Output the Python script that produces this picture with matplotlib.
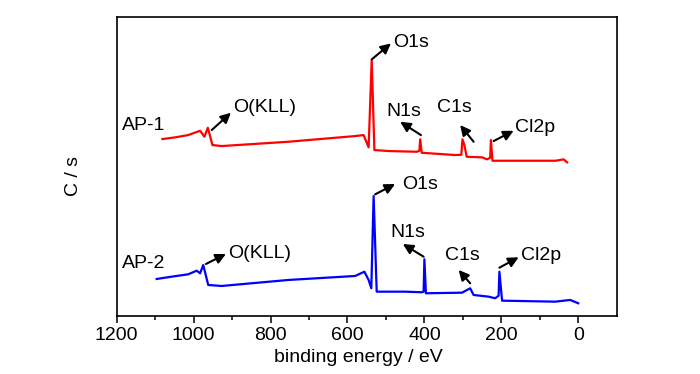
import matplotlib.pyplot as plt

plt.rcParams['font.family'] = ['Liberation Sans', 'DejaVu Sans']

# AP-1 survey spectrum (binding energy eV, counts in arbitrary units)
ap1_energy = [1081, 1048, 1014, 983, 972, 963, 951, 927, 754, 580, 558, 545,
              537, 530, 493, 420, 413, 411, 407, 320, 304, 301, 296, 290,
              250, 237, 229, 227, 223, 146, 59, 38, 29]
ap1_counts = [176.7, 178.4, 180.7, 185, 179, 188, 170.7, 169.7, 174, 179.7, 180.7, 168.4,
              255.7, 165.7, 164.7, 164, 165, 176.4, 163, 160.7, 161, 176.4, 170.7, 159,
              158.4, 156.4, 158, 175.7, 155, 155, 155, 156.4, 153.4]

# AP-2 survey spectrum
ap2_energy = [1096, 1057, 1014, 992, 983, 975, 962, 927, 754, 580, 556, 545,
              538, 532, 524, 450, 407, 402, 400, 396, 302, 281, 272, 233,
              216, 207, 205, 198, 60, 21, 0]
ap2_counts = [36.7, 39, 41.4, 45, 42.4, 50.7, 30.7, 29.7, 35.7, 39.7, 44, 35.7,
              27.4, 119.7, 24, 24, 23.4, 24, 56.4, 22.4, 23, 27.4, 20.7, 19,
              17.4, 20, 44, 15, 14, 15.7, 12.4]

fig = plt.figure(figsize=(7, 3.74), dpi=100)
ax = fig.add_axes([0.1667, 0.156, 0.7143, 0.799])

ax.plot(ap1_energy, ap1_counts, color='#ff0000', lw=1.6)
ax.plot(ap2_energy, ap2_counts, color='#0000ff', lw=1.6)

ax.set_xlim(1200, -100)
ax.set_ylim(0, 299)
ax.set_xticks([1200, 1000, 800, 600, 400, 200, 0])
ax.set_xticks(range(1100, -100, -200), minor=True)
ax.set_yticks([])
ax.tick_params(axis='x', which='major', direction='out', length=5, width=1.1,
               labelsize=14, pad=3)
ax.tick_params(axis='x', which='minor', direction='out', length=3, width=1.1)
for s in ax.spines.values():
    s.set_linewidth(1.2)

ax.set_xlabel('binding energy / eV', fontsize=14)
ax.xaxis.set_label_coords(0.483, -0.112)
ax.set_ylabel('C / s', fontsize=14)
ax.yaxis.set_label_coords(-0.07, 0.467)

arrow = dict(arrowstyle='-|>', color='k', lw=1.5, mutation_scale=15,
             shrinkA=0, shrinkB=0)

# (text, x, y, ha) labels and (tail, head) arrows
labels = [('AP-1', 1187, 190.2, 'left'), ('O(KLL)', 898, 208.7, 'left'),
          ('O1s', 480, 273.2, 'left'), ('N1s', 453, 204.7, 'center'),
          ('C1s', 323, 208.7, 'center'), ('Cl2p', 164, 188.7, 'left'),
          ('AP-2', 1187, 51.7, 'left'), ('O(KLL)', 910, 61.7, 'left'),
          ('O1s', 459, 131.7, 'left'), ('N1s', 442, 83.2, 'center'),
          ('C1s', 302, 59.7, 'center'), ('Cl2p', 148, 59.7, 'left')]
arrows = [((953, 185.7), (903, 203)), ((537, 256.4), (487, 272.4)),
          ((409, 180.7), (463, 194)), ((272, 174), (307, 190.7)),
          ((220, 174.7), (168, 185)),
          ((968, 51.7), (916, 61.7)), ((528, 121.4), (476, 131.7)),
          ((402, 59), (456, 71.7)), ((281, 32.4), (311, 45.7)),
          ((205, 48), (155, 58.4))]

for txt, x, y, ha in labels:
    ax.text(x, y, txt, fontsize=14, ha=ha, va='center')
for tail, head in arrows:
    ax.annotate('', xy=head, xytext=tail, arrowprops=arrow)

fig.savefig('out.png', dpi=100)
